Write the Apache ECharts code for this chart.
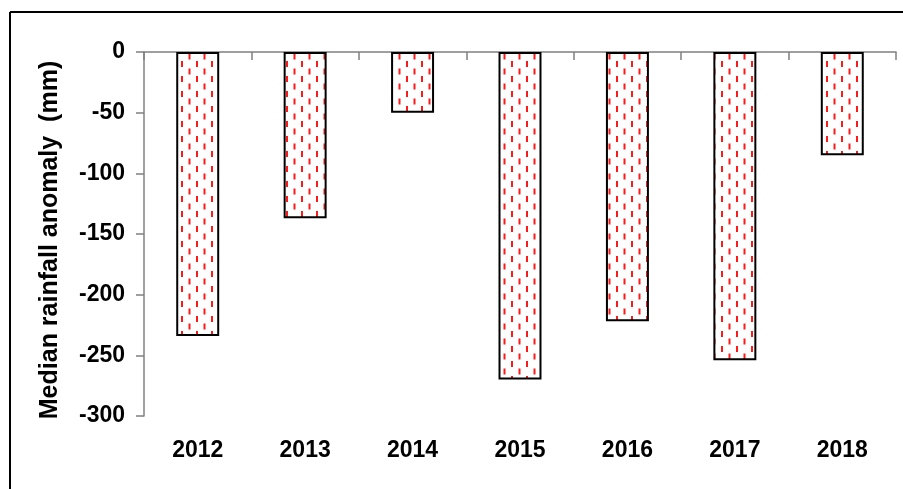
<!DOCTYPE html>
<html>
<head>
<meta charset="utf-8">
<script src="https://cdn.jsdelivr.net/npm/echarts@6/dist/echarts.min.js"></script>
<style>
html,body{margin:0;padding:0;background:#fff;}
#chart{width:903px;height:489px;}
</style>
</head>
<body>
<div id="chart"></div>
<script>
const categories = ['2012', '2013', '2014', '2015', '2016', '2017', '2018'];
const anomaly = [-234, -137, -50, -270, -222, -254, -85];
const yAxisTitle = 'Median rainfall anomaly  (mm)';

function makePattern() {
  const c = document.createElement('canvas');
  c.width = 15; c.height = 15;
  const ctx = c.getContext('2d');
  ctx.fillStyle = '#ffffff';
  ctx.fillRect(0, 0, 15, 15);
  ctx.fillStyle = '#ff1a1a';
  ctx.fillRect(1, 1, 2, 6);
  ctx.fillRect(8.5, 8.5, 2, 6);
  return c;
}

const font = '"Liberation Sans", Arial, sans-serif';
const chart = echarts.init(document.getElementById('chart'));
chart.setOption({
  animation: false,
  backgroundColor: '#ffffff',
  grid: { left: 144, right: 7, top: 52, bottom: 73, containLabel: false },
  xAxis: [
    {
      type: 'category', data: categories, position: 'top',
      axisLine: { show: true, onZero: false, lineStyle: { color: '#808080', width: 1.5 } },
      axisTick: { show: true, inside: true, length: 8, lineStyle: { color: '#808080', width: 1.5 } },
      axisLabel: { show: false },
      splitLine: { show: false }
    },
    {
      type: 'category', data: categories, position: 'bottom',
      axisLine: { show: false }, axisTick: { show: false },
      axisLabel: { show: true, fontFamily: font, fontWeight: 'bold', fontSize: 23, color: '#000', margin: 23 },
      splitLine: { show: false }
    }
  ],
  yAxis: {
    type: 'value', min: -300, max: 0, interval: 50,
    name: yAxisTitle, nameLocation: 'middle', nameGap: 81,
    nameTextStyle: { fontFamily: font, fontWeight: 'bold', fontSize: 25, color: '#000', padding: [0, 12, 0, 0] },
    axisLine: { show: true, lineStyle: { color: '#808080', width: 1.5 } },
    axisTick: { show: true, length: 8, lineStyle: { color: '#808080', width: 1.5 } },
    axisLabel: { fontFamily: font, fontWeight: 'bold', fontSize: 23, color: '#000', margin: 19 },
    splitLine: { show: false }
  },
  series: [{
    type: 'bar', xAxisIndex: 0, data: anomaly, barWidth: '40%',
    itemStyle: { color: { image: makePattern(), repeat: 'repeat' }, borderColor: '#000', borderWidth: 2 }
  }],
  graphic: [
    { type: 'line', shape: { x1: 10, y1: 12, x2: 10, y2: 489 }, style: { stroke: '#000', lineWidth: 2 } },
    { type: 'line', shape: { x1: 10, y1: 12, x2: 903, y2: 12 }, style: { stroke: '#000', lineWidth: 2 } }
  ]
});
</script>
</body>
</html>
